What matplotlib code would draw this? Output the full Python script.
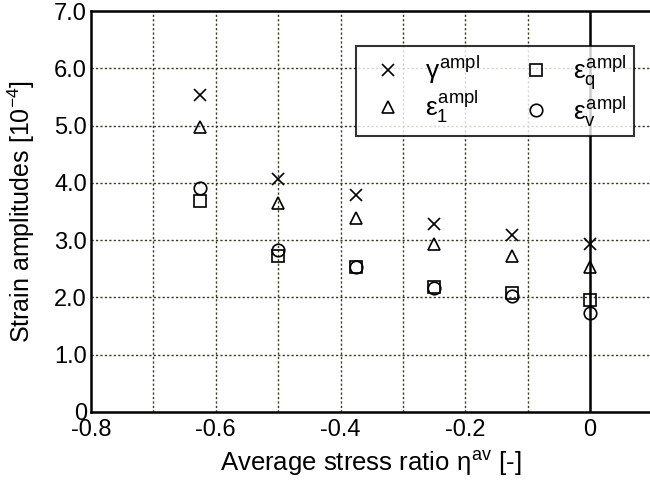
"""
Amplitudes de déformation en fonction du rapport de contrainte moyen
"""

import matplotlib
matplotlib.use("Agg")
import matplotlib.pyplot as plt

plt.rcParams.update({
    "font.family": ["Liberation Sans", "DejaVu Sans"],
    "font.size": 17,
    "mathtext.fontset": "custom",
    "mathtext.rm": "Liberation Sans",
    "mathtext.it": "Liberation Sans",
    "mathtext.bf": "Liberation Sans:bold",
})

# rapport de contrainte moyen
eta_av = [-0.625, -0.5, -0.375, -0.25, -0.125, 0.0]

# amplitudes [1e-4]
gamma_ampl = [5.53, 4.07, 3.79, 3.28, 3.09, 2.93]
eps1_ampl = [4.98, 3.65, 3.39, 2.93, 2.72, 2.53]
epsq_ampl = [3.68, 2.73, 2.53, 2.19, 2.07, 1.96]
epsv_ampl = [3.91, 2.82, 2.53, 2.17, 2.02, 1.72]

x_ticks = [-0.8, -0.6, -0.4, -0.2, 0.0]
x_tick_labels = ["-0.8", "-0.6", "-0.4", "-0.2", "0"]
y_ticks = [0, 1, 2, 3, 4, 5, 6, 7]
y_tick_labels = ["0", "1.0", "2.0", "3.0", "4.0", "5.0", "6.0", "7.0"]


def main() -> None:
    """main"""
    fig = plt.figure(figsize=(6.5, 4.88), dpi=100)
    ax = fig.add_axes([91 / 650, 1 - 412 / 488, 1 - 91 / 650, 401 / 488])

    # grille pointillée
    for xv in [-0.7, -0.6, -0.5, -0.4, -0.3, -0.2, -0.1]:
        ax.axvline(xv, color="#3c3c22", lw=1.0, ls=(0, (1.6, 1.6)), zorder=1)
    for yv in [1, 2, 3, 4, 5, 6]:
        ax.axhline(yv, color="#3c3c22", lw=1.0, ls=(0, (1.6, 1.6)), zorder=1)
    ax.axvline(0, color="black", lw=1.8, zorder=2)

    style = dict(ls="none", color="black", mfc="none", mew=1.2, zorder=3)
    ax.plot(eta_av, gamma_ampl, marker="x", ms=9, label=r"$\gamma^{ampl}$", **style)
    ax.plot(eta_av, eps1_ampl, marker="^", ms=9, label=r"$\varepsilon_1^{ampl}$", **style)
    ax.plot(eta_av, epsq_ampl, marker="s", ms=8.5, label=r"$\varepsilon_q^{ampl}$", **style)
    ax.plot(eta_av, epsv_ampl, marker="o", ms=9, label=r"$\varepsilon_v^{ampl}$", **style)

    ax.set_xlim(-0.8, 0.096)
    ax.set_ylim(0, 7)
    ax.set_xticks(x_ticks, x_tick_labels)
    ax.set_yticks(y_ticks, y_tick_labels)
    ax.tick_params(axis="y", length=0, pad=3, labelsize=17)
    ax.tick_params(axis="x", length=0, pad=5, labelsize=17)

    for side in ("left", "bottom", "top"):
        ax.spines[side].set_linewidth(1.8)
    ax.spines["right"].set_visible(False)

    ax.set_xlabel(r"Average stress ratio $\eta^{av}$ [-]", fontsize=18.5, labelpad=6)
    ax.set_ylabel(r"Strain amplitudes [10$^{\mathrm{-4}}$]", fontsize=18, labelpad=12)

    leg = ax.legend(
        loc="upper left",
        bbox_to_anchor=((356 - 91) / 559, (412 - 46) / 401),
        ncol=2,
        frameon=True,
        fancybox=False,
        edgecolor="black",
        fontsize=19,
        handlelength=1.9,
        handletextpad=0.45,
        columnspacing=1.15,
        borderpad=0.28,
        borderaxespad=0,
        labelspacing=0.1,
    )
    leg.get_frame().set_linewidth(1.5)
    leg.set_zorder(5)

    fig.savefig("out.png", dpi=100)


if __name__ == "__main__":
    main()
